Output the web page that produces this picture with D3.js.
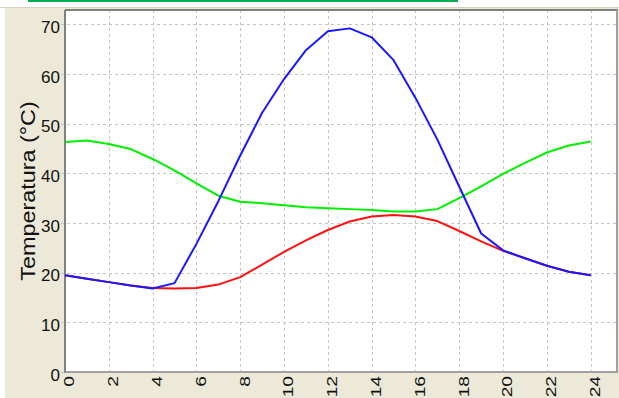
<!DOCTYPE html>
<html><head><meta charset="utf-8">
<script src="https://cdn.jsdelivr.net/npm/d3@7"></script>
<style>html,body{margin:0;padding:0;background:#fff;}svg{display:block;}</style>
</head><body>
<svg id="c" width="619" height="398"></svg>
<script>
const hours = [0,1,2,3,4,5,6,7,8,9,10,11,12,13,14,15,16,17,18,19,20,21,22,23,24];
const blueSeries = [19.5,18.8,18.1,17.4,16.8,17.9,25.8,34.4,43.6,52.2,59.0,64.8,68.6,69.2,67.4,62.8,55.2,46.8,37.3,27.9,24.5,22.9,21.4,20.2,19.5];
const redSeries = [19.5,18.8,18.1,17.4,16.9,16.8,16.9,17.6,19.1,21.6,24.2,26.5,28.6,30.3,31.3,31.6,31.3,30.4,28.4,26.3,24.4,22.9,21.4,20.2,19.5];
const greenSeries = [46.3,46.6,45.9,44.9,42.9,40.6,38.0,35.5,34.3,34.0,33.6,33.2,33.0,32.8,32.6,32.3,32.3,32.8,35.0,37.4,39.9,42.1,44.2,45.6,46.4];
const xTicks = [0,2,4,6,8,10,12,14,16,18,20,22,24];
const yTicks = [0,10,20,30,40,50,60,70];
const yTitle = "Temperatura (°C)";

const svg = d3.select("#c");
const font = "'Liberation Sans', Arial, sans-serif";
// background
svg.append("rect").attr("x",0).attr("y",0).attr("width",619).attr("height",398).attr("fill","#ffffff");
svg.append("rect").attr("x",5).attr("y",8).attr("width",614).attr("height",390).attr("fill","#ece9d8");
svg.append("line").attr("x1",0).attr("x2",619).attr("y1",7.5).attr("y2",7.5).attr("stroke","#d8d4c4");
svg.append("rect").attr("x",28).attr("y",0).attr("width",430).attr("height",2).attr("fill","#00b050");

const L=65, R=617, T=10, B=372;
const x = d3.scaleLinear().domain([0,25.2]).range([L,R]);
const y = d3.scaleLinear().domain([0,72.9]).range([B,T]);

svg.append("rect").attr("x",L).attr("y",T).attr("width",R-L).attr("height",B-T).attr("fill","#ffffff");

// grid
const g = svg.append("g");
g.selectAll(".vg").data(xTicks).enter().append("line")
  .attr("x1",d=>Math.round(x(d))+0.5).attr("x2",d=>Math.round(x(d))+0.5)
  .attr("y1",T).attr("y2",B+4)
  .attr("stroke","#c4c4c4").attr("stroke-dasharray","3,3");
g.selectAll(".hg").data(yTicks).enter().append("line")
  .attr("y1",d=>Math.round(y(d))+0.5).attr("y2",d=>Math.round(y(d))+0.5)
  .attr("x1",L-4).attr("x2",R)
  .attr("stroke","#c4c4c4").attr("stroke-dasharray","3,3");

// frame
svg.append("line").attr("x1",L).attr("x2",R+1).attr("y1",T).attr("y2",T).attr("stroke","#808080").attr("stroke-width",2);
svg.append("line").attr("x1",L).attr("x2",L).attr("y1",T).attr("y2",B+1).attr("stroke","#808080").attr("stroke-width",2);
svg.append("line").attr("x1",R).attr("x2",R).attr("y1",T).attr("y2",B+1).attr("stroke","#a0a0a0").attr("stroke-width",2);
svg.append("line").attr("x1",L).attr("x2",R+1).attr("y1",B).attr("y2",B).attr("stroke","#a0a0a0").attr("stroke-width",2);

// lines
const line = d3.line().x((d,i)=>x(hours[i])).y(d=>y(d));
[[greenSeries,"#00f000"],[redSeries,"#ff1010"],[blueSeries,"#1818ff"]].forEach(([s,c])=>{
  svg.append("path").attr("d",line(s)).attr("fill","none").attr("stroke",c).attr("stroke-width",2).attr("stroke-linejoin","round");
});

// y labels
svg.selectAll(".yl").data(yTicks).enter().append("text")
  .attr("x",60).attr("y",d=>y(d)+8.5)
  .attr("text-anchor","end").attr("font-family",font).attr("font-size",17).attr("fill","#111")
  .text(d=>d);
// x labels
svg.selectAll(".xl").data(xTicks).enter().append("text")
  .attr("transform",d=>`translate(${x(d)},376) rotate(-90) scale(1.28,1)`)
  .attr("text-anchor","end").attr("dy",9.4).attr("font-family",font).attr("font-size",15).attr("fill","#111")
  .text(d=>d);
// y title
svg.append("text")
  .attr("transform","translate(35,191) rotate(-90) scale(1.2,1)")
  .attr("text-anchor","middle").attr("font-family",font).attr("font-size",19.5).attr("fill","#111")
  .text(yTitle);
</script>
</body></html>
